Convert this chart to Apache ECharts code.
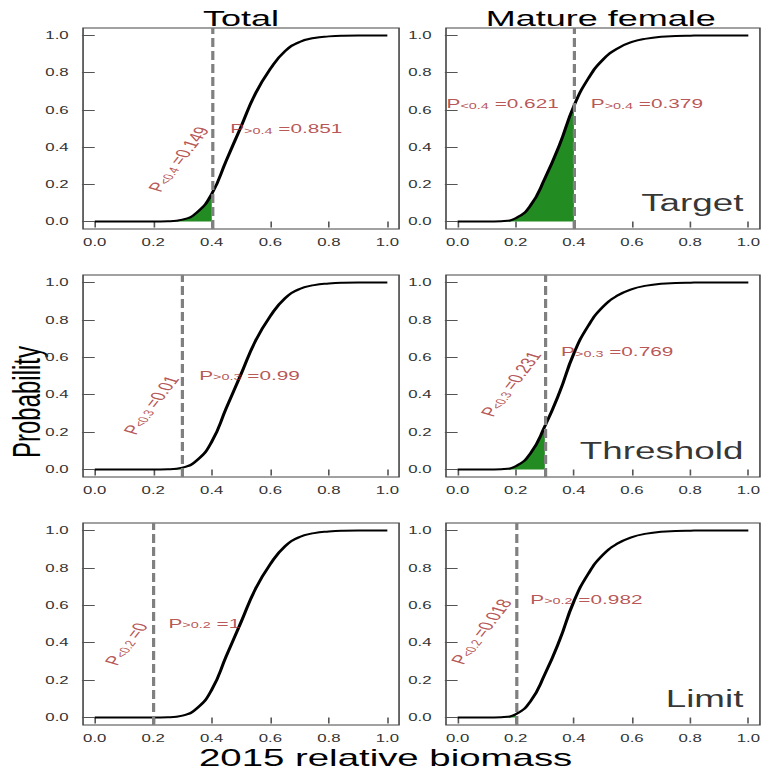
<!DOCTYPE html>
<html>
<head>
<meta charset="utf-8">
<script src="https://cdn.jsdelivr.net/npm/echarts@6.0.0/dist/echarts.min.js"></script>
<style>
  body { margin: 0; background: #fff; }
  /* the original figure is stretched sideways, so the chart is drawn narrow and widened */
  #chart { width: 478px; height: 774px; transform: scaleX(1.6); transform-origin: 0 0; }
</style>
</head>
<body>
<div id="chart"></div>
<script>
// relative biomass (x) and cumulative probability
let biomass = [0, 0.05, 0.1, 0.15, 0.2, 0.25, 0.3, 0.35, 0.4, 0.45, 0.5,
               0.55, 0.6, 0.65, 0.7, 0.75, 0.8, 0.85, 0.9, 0.95, 1.0];
let totalProb = [0, 0, 0, 0, 0, 0.001, 0.010, 0.05, 0.149, 0.33, 0.51,
                 0.69, 0.82, 0.915, 0.965, 0.986, 0.995, 0.999, 1, 1, 1];
let femaleProb = [0, 0, 0, 0.002, 0.018, 0.085, 0.231, 0.41, 0.621, 0.77, 0.87,
                  0.93, 0.965, 0.983, 0.993, 0.997, 0.999, 1, 1, 1, 1];

let refPoints = [0.4, 0.3, 0.2];
let refNames = ['Target', 'Threshold', 'Limit'];
let belowTotal = ['0.149', '0.01', '0'];
let aboveTotal = ['0.851', '0.99', '1'];
let belowFemale = ['0.621', '0.231', '0.018'];
let aboveFemale = ['0.379', '0.769', '0.982'];
let columnTitles = ['Total', 'Mature female'];
let tickValues = [0, 0.2, 0.4, 0.6, 0.8, 1.0];

const font = '"Liberation Sans", Arial, sans-serif';
const noteColor = '#a52a2a';

// where the P labels sit in each panel (data units) and whether they are tilted
let notes = [
    { below: [0.287, 0.335], belowTilt: true, above: [0.463, 0.5] },
    { below: [-0.038, 0.633], belowTilt: false, above: [0.458, 0.633] },
    { below: [0.193, 0.344], belowTilt: true, above: [0.357, 0.505] },
    { below: [0.184, 0.457], belowTilt: true, above: [0.356, 0.63] },
    { below: [0.108, 0.393], belowTilt: true, above: [0.252, 0.505] },
    { below: [0.082, 0.459], belowTilt: true, above: [0.25, 0.633] }
];

let colLeft = [51.9, 278.75];
let rowTop = [28, 275, 523];
let rowHeight = [201, 202, 202];

let grids = [];
let xAxes = [];
let yAxes = [];
let series = [];

let noteRich = {
    m: { fontSize: 13, color: noteColor, fontFamily: font },
    s: { fontSize: 9, color: noteColor, fontFamily: font, padding: [4, 0, 0, 0] }
};

for (let row = 0; row < 3; row++) {
    for (let col = 0; col < 2; col++) {
        let i = row * 2 + col;
        let cut = refPoints[row];
        let prob = col === 0 ? totalProb : femaleProb;
        let curve = biomass.map((x, k) => [x, prob[k]]);
        let filled = curve.filter(p => p[0] <= cut + 1e-9);

        grids.push({
            left: colLeft[col], top: rowTop[row], width: 197.5, height: rowHeight[row],
            show: true, borderColor: '#444', borderWidth: 1
        });
        xAxes.push({
            gridIndex: i, type: 'value', min: -0.04, max: 1.04,
            axisLine: { show: false }, splitLine: { show: false },
            axisTick: { show: true, length: 6, customValues: tickValues, lineStyle: { color: '#555' } },
            axisLabel: {
                customValues: tickValues, formatter: v => v.toFixed(1), margin: 8,
                fontSize: 10.5, color: '#333', fontFamily: font
            }
        });
        yAxes.push({
            gridIndex: i, type: 'value', min: -0.04, max: 1.04,
            axisLine: { show: false }, splitLine: { show: false },
            axisTick: { show: true, length: 8, customValues: tickValues, lineStyle: { color: '#555' } },
            axisLabel: {
                customValues: tickValues, formatter: v => v.toFixed(1), margin: 9,
                fontSize: 10.5, color: '#333', fontFamily: font
            }
        });

        // green area below the reference point
        series.push({
            type: 'line', xAxisIndex: i, yAxisIndex: i, data: filled,
            showSymbol: false, smooth: 0.5, lineStyle: { width: 0 },
            areaStyle: { color: '#228b22', opacity: 1 }
        });
        series.push({
            type: 'line', xAxisIndex: i, yAxisIndex: i, data: curve,
            showSymbol: false, smooth: 0.5,
            lineStyle: { color: '#000', width: 2 },
            markLine: {
                silent: true, symbol: 'none', label: { show: false },
                lineStyle: { color: '#808080', type: [9, 4], width: 2 },
                data: [{ xAxis: cut }]
            }
        });

        let below = col === 0 ? belowTotal[row] : belowFemale[row];
        let above = col === 0 ? aboveTotal[row] : aboveFemale[row];
        let note = notes[i];
        series.push({
            type: 'scatter', xAxisIndex: i, yAxisIndex: i, symbolSize: 0, z: 5,
            clip: false,
            data: [
                {
                    value: note.below,
                    label: note.belowTilt
                        ? { position: 'inside', rotate: 64, formatter: `{m|P}{s|<${cut}}{m| =${below}}` }
                        : { position: 'right', distance: 0, formatter: `{m|P}{s|<${cut}}{m| =${below}}` }
                },
                {
                    value: note.above,
                    label: { position: 'right', distance: 0, formatter: `{m|P}{s|>${cut}}{m| =${above}}` }
                }
            ],
            label: { show: true, rich: noteRich }
        });

        if (col === 1) {
            series.push({
                type: 'scatter', xAxisIndex: i, yAxisIndex: i, symbolSize: 0, z: 5,
                data: [[0.983, 0.1]],
                label: {
                    show: true, position: 'left', distance: 0, formatter: refNames[row],
                    fontSize: 23, color: '#000', fontFamily: font
                }
            });
        }
    }
}

let graphic = [
    { type: 'text', x: 150.6, y: 18, style: { text: columnTitles[0], fontSize: 22.5, fontFamily: font, fill: '#000', align: 'center', verticalAlign: 'middle' } },
    { type: 'text', x: 375.5, y: 18, style: { text: columnTitles[1], fontSize: 22.5, fontFamily: font, fill: '#000', align: 'center', verticalAlign: 'middle' } },
    { type: 'text', x: 16.5, y: 402, rotation: Math.PI / 2, style: { text: 'Probability', fontSize: 24, fontFamily: font, fill: '#000', align: 'center', verticalAlign: 'middle' } },
    { type: 'text', x: 241, y: 758, style: { text: '2015 relative biomass', fontSize: 24, fontFamily: font, fill: '#000', align: 'center', verticalAlign: 'middle' } }
];

let chart = echarts.init(document.getElementById('chart'), null, { renderer: 'svg' });
chart.setOption({
    animation: false,
    grid: grids,
    xAxis: xAxes,
    yAxis: yAxes,
    series: series,
    graphic: graphic
});
</script>
</body>
</html>
